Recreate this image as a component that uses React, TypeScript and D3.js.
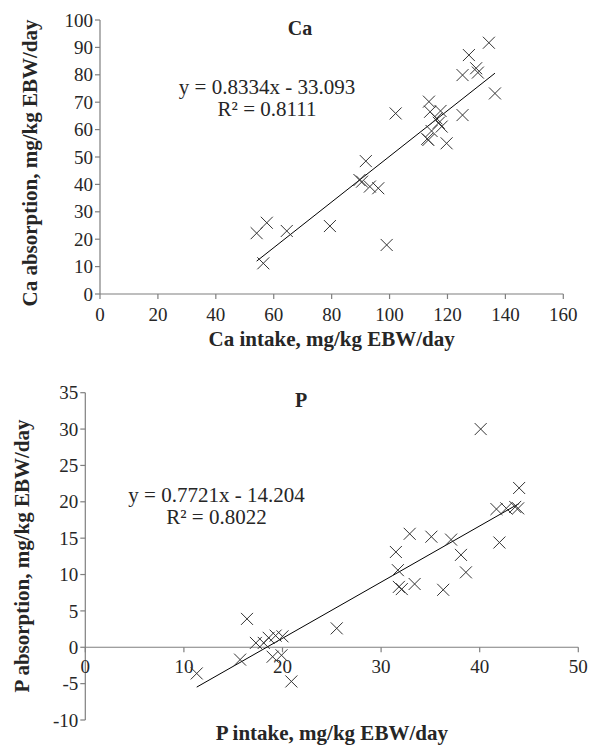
import React from "react";
import * as d3 from "d3";

// ---- Ca panel data ----
const caIntake = [54.1, 57.6, 56.4, 64.5, 79.4, 89.6, 90.5, 91.8, 93.2, 96.1, 99.0, 102.1, 113.6, 114.0, 113.4, 113.0, 114.5, 116.2, 117.6, 118.0, 117.0, 119.7, 125.2, 125.2, 127.4, 129.9, 130.5, 134.3, 136.4];
const caAbsorption = [22.2, 26.0, 11.2, 23.0, 24.8, 41.6, 41.0, 48.5, 39.2, 38.6, 17.9, 65.9, 70.2, 66.5, 56.2, 56.6, 59.5, 64.1, 66.8, 61.1, 62.5, 55.0, 65.3, 79.9, 87.2, 82.4, 80.8, 91.7, 73.2];
const caSlope = 0.8334;
const caIntercept = -33.093;
const caXTicks = [0, 20, 40, 60, 80, 100, 120, 140, 160];
const caYTicks = [0, 10, 20, 30, 40, 50, 60, 70, 80, 90, 100];

// ---- P panel data ----
const pIntake = [11.3, 15.7, 16.4, 17.3, 18.1, 18.6, 19.3, 20.0, 19.0, 19.9, 20.9, 25.5, 31.5, 31.7, 31.8, 32.1, 32.9, 33.4, 35.1, 36.3, 37.1, 38.1, 38.6, 40.1, 41.7, 42.0, 42.7, 43.6, 43.9, 44.0];
const pAbsorption = [-3.6, -1.7, 3.9, 0.6, 0.6, 1.3, 1.6, 1.5, -1.3, -1.1, -4.7, 2.6, 13.1, 10.6, 8.3, 8.0, 15.6, 8.7, 15.2, 7.9, 14.8, 12.7, 10.3, 30.0, 19.0, 14.4, 19.1, 19.3, 19.1, 21.9];
const pSlope = 0.7721;
const pIntercept = -14.204;
const pXTicks = [0, 10, 20, 30, 40, 50];
const pYTicks = [-10, -5, 0, 5, 10, 15, 20, 25, 30, 35];

const FONT = "'Liberation Serif', 'Times New Roman', serif";
const AXIS = "#7f7f7f";
const TXT = "#262626";
const MARK = "#333";

type PanelProps = {
  xs: number[];
  ys: number[];
  slope: number;
  intercept: number;
  xTicks: number[];
  yTicks: number[];
  xDomain: [number, number];
  yDomain: [number, number];
  xRange: [number, number];
  yRange: [number, number];
  title: string;
  titleX: number;
  titleY: number;
  eq: string;
  r2: string;
  eqX: number;
  eqY: number;
  xLabel: string;
  xLabelY: number;
  yLabel: string;
  yLabelX: number;
  yLabelCY: number;
  xTickLabelY: number;
};

function Panel(p: PanelProps) {
  const x = d3.scaleLinear().domain(p.xDomain).range(p.xRange);
  const y = d3.scaleLinear().domain(p.yDomain).range(p.yRange);
  const y0 = y(Math.max(p.yDomain[0], 0));
  const xmin = d3.min(p.xs) as number;
  const xmax = d3.max(p.xs) as number;
  const line = d3
    .line<number>()
    .x((d) => x(d))
    .y((d) => y(p.slope * d + p.intercept));
  const s = 6;
  const xMid = (p.xRange[0] + p.xRange[1]) / 2;
  return (
    <g>
      {/* y axis */}
      <line x1={x(0)} x2={x(0)} y1={y(p.yDomain[0])} y2={y(p.yDomain[1])} stroke={AXIS} strokeWidth={1.2} />
      {p.yTicks.map((t) => (
        <g key={"y" + t}>
          <line x1={x(0) - 5} x2={x(0)} y1={y(t)} y2={y(t)} stroke={AXIS} strokeWidth={1.2} />
          <text x={x(0) - 7} y={y(t)} dy="0.35em" textAnchor="end" fontSize={19} fontFamily={FONT} fill={TXT}>
            {t}
          </text>
        </g>
      ))}
      {/* x axis */}
      <line x1={p.xRange[0]} x2={p.xRange[1]} y1={y0} y2={y0} stroke={AXIS} strokeWidth={1.2} />
      {p.xTicks.map((t) => (
        <g key={"x" + t}>
          <line x1={x(t)} x2={x(t)} y1={y0} y2={y0 + 5} stroke={AXIS} strokeWidth={1.2} />
          <text x={x(t)} y={p.xTickLabelY} textAnchor="middle" fontSize={19} fontFamily={FONT} fill={TXT}>
            {t}
          </text>
        </g>
      ))}
      {/* trendline */}
      <path d={line([xmin, xmax]) || ""} stroke="#000" strokeWidth={1} fill="none" />
      {/* markers */}
      {p.xs.map((v, i) => {
        const cx = x(v);
        const cy = y(p.ys[i]);
        return (
          <path
            key={"m" + i}
            d={`M${cx - s},${cy - s}L${cx + s},${cy + s}M${cx - s},${cy + s}L${cx + s},${cy - s}`}
            stroke={MARK}
            strokeWidth={1}
            fill="none"
          />
        );
      })}
      {/* title */}
      <text x={p.titleX} y={p.titleY} textAnchor="middle" fontSize={20} fontWeight="bold" fontFamily={FONT} fill={TXT}>
        {p.title}
      </text>
      {/* equation */}
      <text x={p.eqX} y={p.eqY} textAnchor="middle" fontSize={21} fontFamily={FONT} fill={TXT}>
        {p.eq}
      </text>
      <text x={p.eqX} y={p.eqY + 22} textAnchor="middle" fontSize={21} fontFamily={FONT} fill={TXT}>
        {p.r2}
      </text>
      {/* axis labels */}
      <text x={xMid} y={p.xLabelY} textAnchor="middle" fontSize={21} fontWeight="bold" fontFamily={FONT} fill={TXT}>
        {p.xLabel}
      </text>
      <text
        transform={`translate(${p.yLabelX},${p.yLabelCY}) rotate(-90)`}
        textAnchor="middle"
        fontSize={21}
        fontWeight="bold"
        fontFamily={FONT}
        fill={TXT}
      >
        {p.yLabel}
      </text>
    </g>
  );
}

export default function App() {
  return (
    <svg width={590} height={746} style={{ position: "absolute", left: 0, top: 0, background: "#fff" }}>
      <rect width={590} height={746} fill="#fff" />
      <Panel
        xs={caIntake}
        ys={caAbsorption}
        slope={caSlope}
        intercept={caIntercept}
        xTicks={caXTicks}
        yTicks={caYTicks}
        xDomain={[0, 160]}
        yDomain={[0, 100]}
        xRange={[100, 563.3]}
        yRange={[294, 20]}
        title="Ca"
        titleX={300}
        titleY={35}
        eq="y = 0.8334x - 33.093"
        r2="R² = 0.8111"
        eqX={267}
        eqY={94}
        xLabel="Ca intake, mg/kg EBW/day"
        xLabelY={346}
        yLabel="Ca absorption, mg/kg EBW/day"
        yLabelX={37}
        yLabelCY={163}
        xTickLabelY={321}
      />
      <Panel
        xs={pIntake}
        ys={pAbsorption}
        slope={pSlope}
        intercept={pIntercept}
        xTicks={pXTicks}
        yTicks={pYTicks}
        xDomain={[0, 50]}
        yDomain={[-10, 35]}
        xRange={[85.3, 578.3]}
        yRange={[720, 392.7]}
        title="P"
        titleX={301}
        titleY={407}
        eq="y = 0.7721x - 14.204"
        r2="R² = 0.8022"
        eqX={216.5}
        eqY={502}
        xLabel="P intake, mg/kg EBW/day"
        xLabelY={740}
        yLabel="P absorption, mg/kg EBW/day"
        yLabelX={29}
        yLabelCY={556}
        xTickLabelY={673}
      />
    </svg>
  );
}
